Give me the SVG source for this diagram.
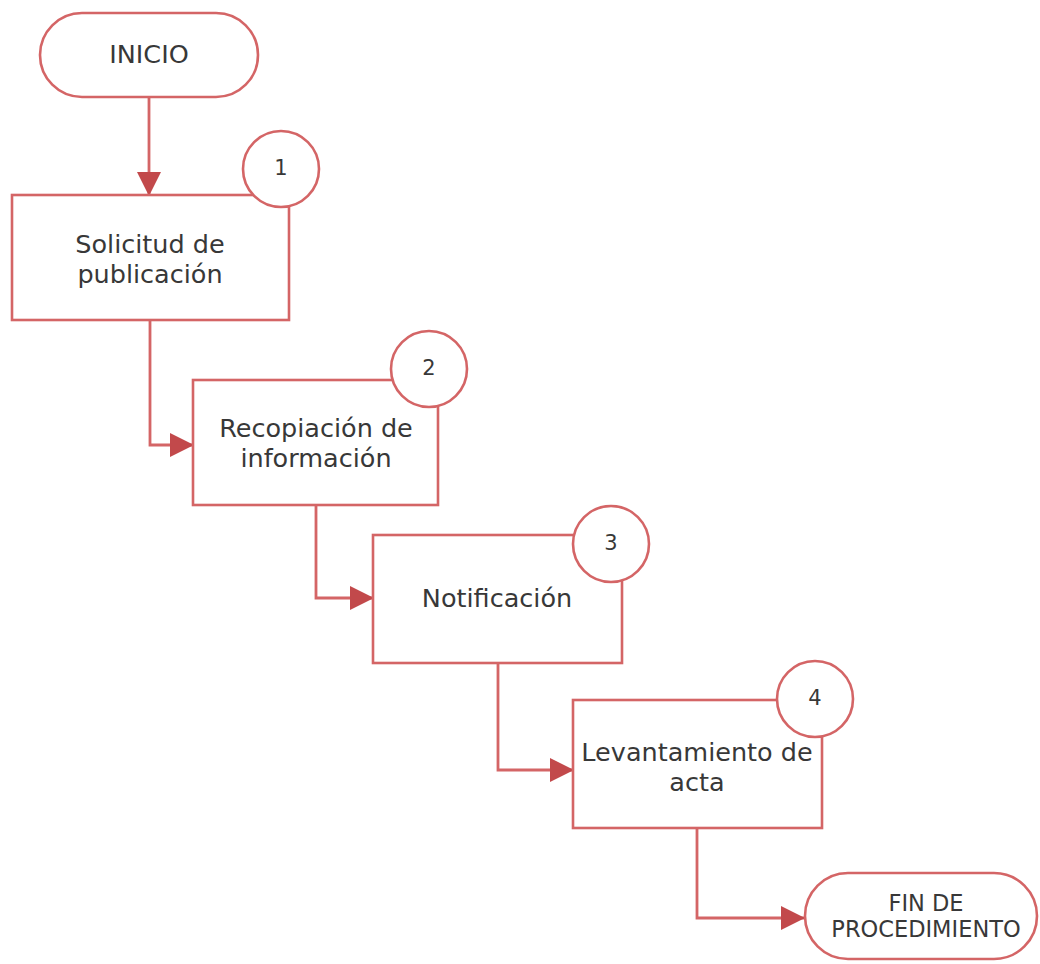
<svg xmlns="http://www.w3.org/2000/svg" width="1040" height="964" viewBox="0 0 1040 964">
<defs>
<marker id="ah" markerUnits="userSpaceOnUse" markerWidth="24" markerHeight="24" viewBox="0 0 24 24" refX="23" refY="12" orient="auto">
<path d="M0,0 L24,12 L0,24 Z" fill="#c2494b"/>
</marker>
</defs>
<style>
.sh{fill:#fff;stroke:#d46566;stroke-width:2.6}
.cn{fill:none;stroke:#d46566;stroke-width:2.8;marker-end:url(#ah)}
.t{font-family:"DejaVu Sans","Liberation Sans",sans-serif;font-size:25.5px;fill:#383838;text-anchor:middle;dominant-baseline:central}
.n{font-family:"DejaVu Sans","Liberation Sans",sans-serif;font-size:21px;fill:#383838;text-anchor:middle;dominant-baseline:central}
.f{font-size:22.5px}
</style>
<rect width="1040" height="964" fill="#fff"/>
<g id="connectors">
<path class="cn" d="M149,98 V195"/>
<path class="cn" d="M150,320 V445 H193"/>
<path class="cn" d="M316,505 V598 H373"/>
<path class="cn" d="M498,663 V770 H573"/>
<path class="cn" d="M697,828 V918 H804"/>
</g>
<g id="inicio">
<rect class="sh" x="40" y="13" width="218" height="84" rx="42"/>
<text class="t" x="149" y="54">INICIO</text>
</g>
<g id="step1">
<rect class="sh" x="12" y="195" width="277" height="125"/>
<text class="t" x="150" y="244">Solicitud de</text>
<text class="t" x="150" y="274">publicación</text>
<circle class="sh" cx="281" cy="169" r="38"/>
<text class="n" x="281" y="168">1</text>
</g>
<g id="step2">
<rect class="sh" x="193" y="380" width="245" height="125"/>
<text class="t" x="316" y="428">Recopiación de</text>
<text class="t" x="316" y="458">información</text>
<circle class="sh" cx="429" cy="369" r="38"/>
<text class="n" x="429" y="368">2</text>
</g>
<g id="step3">
<rect class="sh" x="373" y="535" width="249" height="128"/>
<text class="t" x="497" y="598">Notificación</text>
<circle class="sh" cx="611" cy="544" r="38"/>
<text class="n" x="611" y="543">3</text>
</g>
<g id="step4">
<rect class="sh" x="573" y="700" width="249" height="128"/>
<text class="t" x="697" y="752">Levantamiento de</text>
<text class="t" x="697" y="782">acta</text>
<circle class="sh" cx="815" cy="699" r="38"/>
<text class="n" x="815" y="698">4</text>
</g>
<g id="fin">
<rect class="sh" x="805" y="873" width="232" height="86" rx="43"/>
<text class="t f" x="926" y="903">FIN DE</text>
<text class="t f" x="926" y="929">PROCEDIMIENTO</text>
</g>
</svg>
